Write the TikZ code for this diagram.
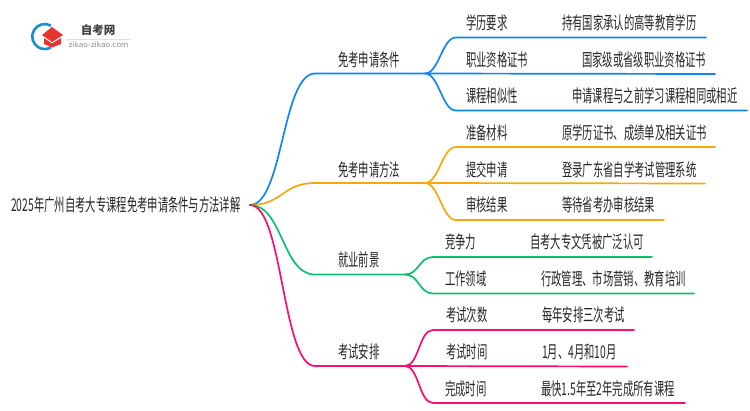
\documentclass[tikz,border=0pt]{standalone}
\usepackage{fontspec}
\newfontfamily\cnfont[FakeStretch=0.59]{Noto Sans CJK SC}
\newfontfamily\logofont{Noto Sans CJK SC}
\setsansfont{DejaVu Sans}
\definecolor{lineblue}{HTML}{0F86F5}
\definecolor{lineorange}{HTML}{F5A80F}
\definecolor{linegreen}{HTML}{10BE70}
\definecolor{linepink}{HTML}{FA0F6E}
\definecolor{logoteal}{HTML}{1E8FC8}
\definecolor{logored}{HTML}{E5352F}
\tikzstyle{label}=[anchor=west,inner sep=0pt,text=black!85,font=\fontsize{17.5}{18}\cnfont]
\tikzstyle{wire}=[line width=1.7pt,line cap=round]
\tikzstyle{branch}=[to path={.. controls +(33,0) and +(-33,0) .. (\tikztotarget)}]
\tikzstyle{twig}=[to path={.. controls +(14,0) and +(-14,0) .. (\tikztotarget)}]

\begin{document}
\begin{tikzpicture}[x=1pt,y=-1pt]
\useasboundingbox (0,0) rectangle (750,410);
% logo
\draw[logoteal,line width=2.6pt] (51,25.7) arc (-60:-300:12.5);
\fill[logored] (42,35) -- (52,27) -- (63,35) -- (52,42) -- cycle;
\fill[logored] (44,38) -- (52,43.5) -- (61,38) -- (61,44) -- (52,47.5) -- (44,44) -- cycle;
\node[inner sep=0pt,font=\fontsize{11.5}{12}\logofont\bfseries,text=black!75] at (98,30.5) (logotitle) {自考网};
\node[inner sep=0pt,font=\fontsize{7.5}{8}\sffamily,text=black!45] at (98.5,45) (logourl) {zikao-zikao.com};
\coordinate (rulea) at (66,39);
\coordinate (ruleb) at (131,39);
\draw[black!12,line width=.5pt] (rulea) -- (ruleb);
% root
\node[label] at (11,205) (root) {2025年广州自考大专课程免考申请条件与方法详解};
\coordinate (hub) at (250,205);
% topics
\node[label] at (338,60) (cond) {免考申请条件};
\node[label] at (338,170) (meth) {免考申请方法};
\node[label] at (338,260) (jobs) {就业前景};
\node[label] at (338,352) (exam) {考试安排};
\coordinate (conda) at (315,73.5);
\coordinate (condb) at (425,73.5);
\coordinate (metha) at (315,183);
\coordinate (methb) at (425,183);
\coordinate (jobsa) at (315,274.5);
\coordinate (jobsb) at (405,274.5);
\coordinate (exama) at (315,366);
\coordinate (examb) at (405,366);
% leaves, first topic
\node[label] at (466,23) (c1) {学历要求};
\node[label] at (562,23) (c1v) {持有国家承认的高等教育学历};
\node[label] at (466,60) (c2) {职业资格证书};
\node[label] at (582,60) (c2v) {国家级或省级职业资格证书};
\node[label] at (466,96) (c3) {课程相似性};
\node[label] at (572,96) (c3v) {申请课程与之前学习课程相同或相近};
\coordinate (c1a) at (456,37.5);
\coordinate (c1b) at (706,37.5);
\coordinate (c2b) at (715,74);
\coordinate (c3a) at (456,110.5);
\coordinate (c3b) at (747,110.5);
% leaves, second topic
\node[label] at (466,133) (m1) {准备材料};
\node[label] at (562,133) (m1v) {原学历证书、成绩单及相关证书};
\node[label] at (466,170) (m2) {提交申请};
\node[label] at (562,170) (m2v) {登录广东省自学考试管理系统};
\node[label] at (466,205) (m3) {审核结果};
\node[label] at (562,205) (m3v) {等待省考办审核结果};
\coordinate (m1a) at (456,147);
\coordinate (m1b) at (715,147);
\coordinate (m2b) at (705,183.5);
\coordinate (m3a) at (456,220);
\coordinate (m3b) at (664,220);
% leaves, third topic
\node[label] at (445,242) (j1) {竞争力};
\node[label] at (530,242) (j1v) {自考大专文凭被广泛认可};
\node[label] at (445,279) (j2) {工作领域};
\node[label] at (541,279) (j2v) {行政管理、市场营销、教育培训};
\coordinate (j1a) at (433,257);
\coordinate (j1b) at (652,257);
\coordinate (j2a) at (433,293.5);
\coordinate (j2b) at (694,293.5);
% leaves, fourth topic
\node[label] at (446,315) (e1) {考试次数};
\node[label] at (542,315) (e1v) {每年安排三次考试};
\node[label] at (446,352) (e2) {考试时间};
\node[label] at (542,352) (e2v) {1月、4月和10月};
\node[label] at (445,389) (e3) {完成时间};
\node[label] at (541,389) (e3v) {最快1.5年至2年完成所有课程};
\coordinate (e1a) at (433,330);
\coordinate (e1b) at (634,330);
\coordinate (e2b) at (627,366.5);
\coordinate (e3a) at (433,403);
\coordinate (e3b) at (685,403);
% connectors
\draw[wire,lineblue] (hub) to[branch] (conda) -- (condb);
\draw[wire,lineblue] (condb) to[twig] (c1a) -- (c1b);
\draw[wire,lineblue] (condb) -- (c2b);
\draw[wire,lineblue] (condb) to[twig] (c3a) -- (c3b);
\draw[wire,lineorange] (hub) to[branch] (metha) -- (methb);
\draw[wire,lineorange] (methb) to[twig] (m1a) -- (m1b);
\draw[wire,lineorange] (methb) -- (m2b);
\draw[wire,lineorange] (methb) to[twig] (m3a) -- (m3b);
\draw[wire,linegreen] (hub) to[branch] (jobsa) -- (jobsb);
\draw[wire,linegreen] (jobsb) to[twig] (j1a) -- (j1b);
\draw[wire,linegreen] (jobsb) to[twig] (j2a) -- (j2b);
\draw[wire,linepink] (hub) to[branch] (exama) -- (examb);
\draw[wire,linepink] (examb) to[twig] (e1a) -- (e1b);
\draw[wire,linepink] (examb) -- (e2b);
\draw[wire,linepink] (examb) to[twig] (e3a) -- (e3b);
\end{tikzpicture}
\end{document}
